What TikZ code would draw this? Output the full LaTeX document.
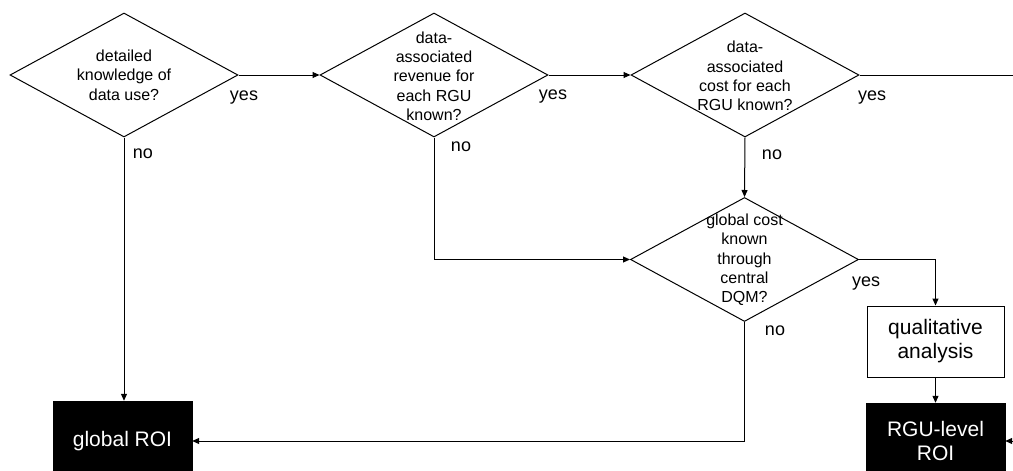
\documentclass[tikz,border=0pt]{standalone}
\usepackage{fontspec}
\setmainfont{Liberation Sans}
\usetikzlibrary{shapes.geometric,arrows.meta}
\begin{document}
\begin{tikzpicture}[x=1pt,y=-1pt,
  decision/.style={draw,diamond,inner sep=0pt,minimum width=228pt,minimum height=124pt,line width=1pt},
  dtext/.style={align=center,inner sep=0pt,font=\fontsize{16}{19.3}\selectfont},
  answer/.style={inner sep=0pt,font=\fontsize{18}{20}\selectfont},
  process/.style={draw,line width=1pt,inner sep=0pt,align=center,font=\fontsize{21}{24}\selectfont},
  result/.style={fill=black,draw=black,text=white,inner sep=0pt,align=center,font=\fontsize{21}{24.5}\selectfont},
  flow/.style={line width=1pt,-{Triangle[length=7pt,width=6pt]}},
  plain/.style={line width=1pt}]
\useasboundingbox (0,0) rectangle (1013,471);

% decisions
\node[decision] (d1) at (124,75) {};
\node[dtext] (t1) at (d1) {detailed\\knowledge of\\data use?};
\node[decision] (d2) at (434,75) {};
\node[dtext] (t2) at (434,76) {data-\\associated\\revenue for\\each RGU\\known?};
\node[decision] (d3) at (745,75) {};
\node[dtext] (t3) at (745,76) {data-\\associated\\cost for each\\RGU known?};
\node[decision] (d4) at (744.5,259.5) {};
\node[dtext] (t4) at (744.5,260) {global cost\\known\\through\\central\\DQM?};

% outcomes
\node[process,minimum width=137pt,minimum height=71pt] (qa) at (935.5,341.5) {qualitative\\analysis};
\node[result,minimum width=139pt,minimum height=80pt] (gr) at (122.5,441) {global ROI};
\node[result,minimum width=139pt,minimum height=76pt] (rr) at (935.5,441) {RGU-level\\ROI};

% open ends at the right margin
\coordinate (outtop) at (1014,75);
\coordinate (inbot) at (1014,441);

% connectors
\draw[flow] (d1.east) -- (d2.west);
\draw[flow] (d2.east) -- (d3.west);
\draw[plain] (d3.east) -- (outtop);
\draw[flow] (d1.south) -- (d1.south |- gr.north);
\draw[flow] (d2.south) |- (d4.west);
\draw[flow] (d3.south) -- (d4.north);
\draw[flow] (d4.east) -| (qa.north);
\draw[flow] (d4.south) |- (gr.east);
\draw[flow] (qa.south) -- (rr.north);
\draw[flow] (inbot) -- (rr.east);

% branch labels
\node[answer] (y1) at (244,98) {yes};
\node[answer] (n1) at (143,154) {no};
\node[answer] (y2) at (553,97) {yes};
\node[answer] (n2) at (461,147) {no};
\node[answer] (y3) at (872,98) {yes};
\node[answer] (n3) at (772,155) {no};
\node[answer] (y4) at (866,284) {yes};
\node[answer] (n4) at (775,331) {no};
\end{tikzpicture}
\end{document}
